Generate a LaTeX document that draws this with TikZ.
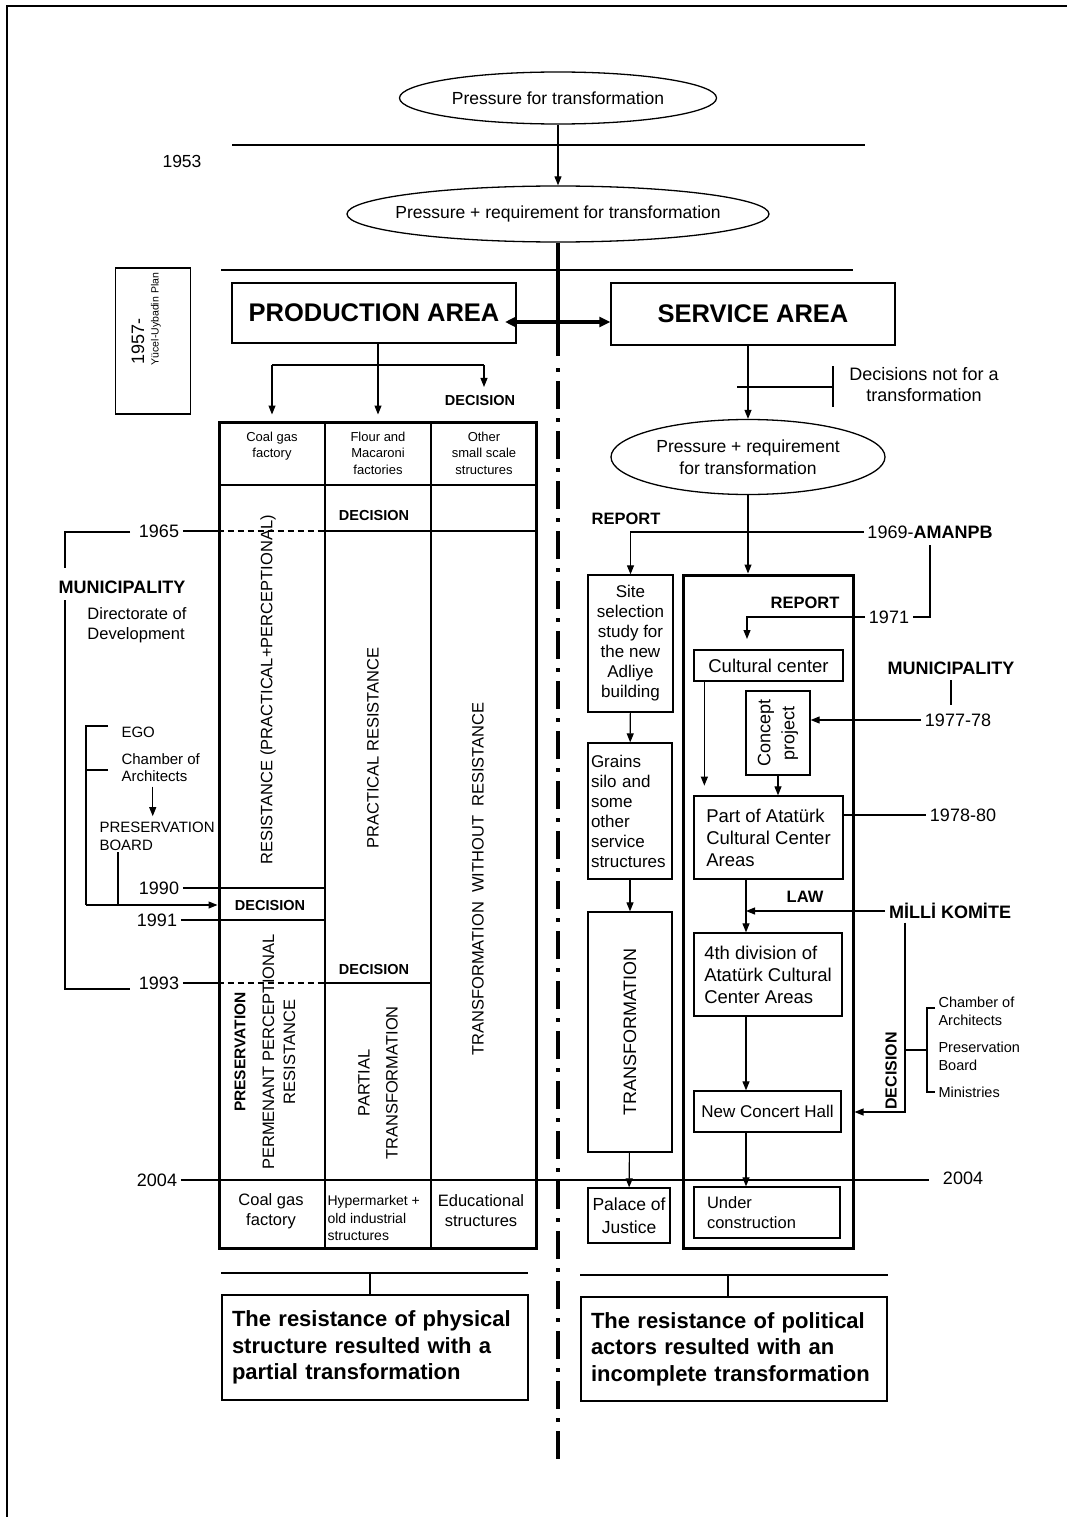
\documentclass[tikz,border=0pt]{standalone}
\usepackage{fontspec}
\setmainfont{Liberation Sans}
\usetikzlibrary{shapes.geometric,arrows.meta}

\tikzset{
	fs/.style 2 args={font=\fontsize{#1}{#2}\selectfont},
	bfs/.style 2 args={font=\bfseries\fontsize{#1}{#2}\selectfont},
	box/.style={draw, line width=1.3pt, inner sep=2pt},
	heavybox/.style={draw, line width=3pt},
	oval/.style={draw, ellipse, line width=1.3pt, align=center, inner sep=0pt},
	gap/.style={dash pattern=on 6pt off 4pt},
}

\begin{document}
\begin{tikzpicture}[x=1pt,y=-1pt,line width=1.1pt,>={Triangle[length=9pt,width=7pt]}]
	\useasboundingbox (0,0) rectangle (1067,1517);
	\draw[line width=2.2pt] (7,1517) -- (7,6) -- (1067,6);

	% top
	\node[oval, fs={17.5}{21}, minimum width=317, minimum height=52] (pft) at (558,98) {Pressure for transformation};
	\node[oval, fs={17.5}{21}, inner xsep=-22pt, minimum width=422, minimum height=56] (prt) at (558,214) {Pressure + requirement for transformation};
	\draw[->] (pft) -- (prt);
	\draw (232,145) -- (865,145);
	\draw (221,270) -- (853,270);
	\node[fs={17.5}{21}] (y1953) at (182,161) {1953};

	\draw[line width=3.5pt] (prt.south) -- (558,356) coordinate (axis);
	\draw[line width=3.5pt, dash pattern=on 4pt off 9pt on 28pt off 9pt] ([yshift=-12pt]axis) -- (558,1462);

	\node[box, minimum width=75, minimum height=146] (plan) at (153,341) {};
	\node[fs={18}{21}, rotate=90, anchor=west] (y1957) at (138,368) {1957-};
	\node[fs={10.5}{12}, rotate=90, anchor=west] (ucel) at (156,369) {Yücel-Uybadin Plan};

	\node[box, bfs={25.5}{30}, minimum width=284, minimum height=60] (parea) at (374,313) {PRODUCTION AREA};
	\node[box, bfs={25.5}{30}, minimum width=284, minimum height=62] (sarea) at (753,314) {SERVICE AREA};
	\coordinate (dbl) at (505,322);
	\draw[{Triangle[length=11pt,width=10pt]}-{Triangle[length=11pt,width=10pt]}, line width=3.5pt] (dbl) -- (dbl -| sarea.west);

	% production area
	\node[heavybox, minimum width=317, minimum height=826] (ptab) at (377.5,835) {};
	\coordinate (c1) at (325,422);
	\coordinate (c2) at (431,422);
	\foreach \cx in {325,431}
		\draw (\cx,422) -- (\cx,1248);
	\draw (219,485) -- (536,485);

	\node[fs={13}{16.5}, align=center] (hdr1) at (272,446) {Coal gas\\factory};
	\node[fs={13}{16.5}, align=center] (hdr2) at (378,453) {Flour and\\Macaroni\\factories};
	\node[fs={13}{16.5}, align=center] (hdr3) at (484,453) {Other\\small scale\\structures};
	\node[bfs={14.5}{17}] (dec0) at (480,401) {DECISION};

	\coordinate (br) at (378,365);
	\draw[->] (parea.south -| hdr2) -- ([yshift=6pt]ptab.north -| hdr2);
	\draw[->] (br -| hdr1) -- ([yshift=6pt]ptab.north -| hdr1);
	\draw (br -| hdr1) -- (br -| hdr3);
	\draw[->, shorten >=5pt] (br -| hdr3) -- (hdr3 |- dec0.north);

	\node[bfs={14.5}{17}] (dec1) at (374,516) {DECISION};
	\node[bfs={14.5}{17}] (dec2) at (270,905) {DECISION};
	\node[bfs={14.5}{17}] (dec3) at (374,969) {DECISION};

	% time lines
	\node[fs={18}{21}] (y1965) at (159,531) {1965};
	\node[fs={18}{21}] (y1990) at (159,888) {1990};
	\node[fs={18}{21}] (y1991) at (157,920) {1991};
	\node[fs={18}{21}] (y1993) at (159,983) {1993};
	\node[fs={18}{21}] (y2004l) at (157,1180) {2004};
	\node[fs={18}{21}] (y2004r) at (963,1178) {2004};

	\draw (y1965.east) -- (y1965 -| ptab.west);
	\draw[gap] (y1965 -| ptab.west) -- (y1965 -| c1);
	\draw (y1965 -| c1) -- (y1965 -| ptab.east);
	\draw (y1990.east) -- (y1990 -| c1);
	\draw (y1991.east) -- (y1991 -| c1);
	\draw (y1993.east) -- (y1993 -| ptab.west);
	\draw[gap] (y1993 -| ptab.west) -- (y1993 -| c1);
	\draw (y1993 -| c1) -- (y1993 -| c2);
	\draw[shorten >=10pt] (y2004l.east) -- (y2004l -| y2004r.west);

	\node[fs={16.5}{20}, rotate=90] (rpp) at (268,690) {RESISTANCE (PRACTICAL+PERCEPTIONAL)};
	\node[fs={16.5}{20}, rotate=90] (prr) at (373,748) {PRACTICAL RESISTANCE};
	\node[fs={16.5}{20}, rotate=90] (twr) at (478,879) {TRANSFORMATION~ WITHOUT~ RESISTANCE};
	\node[bfs={15.5}{17}, rotate=90] (pres) at (240,1052) {PRESERVATION};
	\node[fs={16.5}{21}, rotate=90, align=center] (ppr) at (279,1052) {PERMENANT PERCEPTIONAL\\RESISTANCE};
	\node[fs={16.5}{20}, rotate=90, align=center] (ptr) at (378,1083) {PARTIAL\\[8pt]TRANSFORMATION};

	\node[fs={16.5}{20}, align=center] (bc1) at (271,1211) {Coal gas\\factory};
	\node[fs={14}{17.5}, align=left, anchor=west, inner sep=1pt] (bc2) at (326,1218) {Hypermarket +\\old industrial\\structures};
	\node[fs={16.5}{20}, align=center] (bc3) at (481,1211) {Educational\\structures};

	% actors on the left
	\node[bfs={18}{21}] (muni1) at (122,587) {MUNICIPALITY};
	\node[fs={16.5}{19.5}, align=left] (dirdev) at (137,625) {Directorate of\\Development};
	\draw (130,532) -- (65,532) -- (65,568);
	\draw (65,600) -- (65,989) -- (130,989);

	\node[fs={15}{17}, anchor=west, inner sep=0pt] (ego) at (121,732) {EGO};
	\node[fs={15}{17}, anchor=west, align=left, inner sep=0pt] (cha1) at (121,768) {Chamber of\\Architects};
	\node[fs={15}{18}, anchor=west, align=left, inner sep=0pt] (pb) at (99,836) {PRESERVATION\\BOARD};
	\draw (108,726) -- (86,726) -- (86,905);
	\draw (108,770) -- (86,770);
	\draw[->, shorten <=4pt, shorten >=5pt] ([xshift=-8pt]cha1.south) -- ([xshift=-8pt]cha1.south |- pb.north);
	\draw (118,852) -- (118,905);
	\draw[->] (86,905) -- (dec2 -| ptab.west);

	% service area
	\node[oval, fs={17.5}{22}, minimum width=274, minimum height=75] (pr2) at (748,457) {Pressure + requirement\\for transformation};
	\draw[->] (sarea.south -| pr2) -- (pr2.north);
	\draw (737,387) -- (833,387);
	\draw (833,366) -- (833,407);
	\node[fs={18}{21}, align=center] (dnt) at (924,385) {Decisions not for a\\transformation};

	\node[heavybox, minimum width=170, minimum height=673] (svbox) at (768,911.5) {};
	\draw[->] (pr2.south) -- (pr2.south |- svbox.north);

	\node[bfs={16.5}{20}] (rep1) at (626,519) {REPORT};
	\node[fs={18}{21}] (aman) at (930,532) {1969-\textbf{AMANPB}};
	\node[box, fs={17}{20}, align=center, minimum width=85, minimum height=137, inner sep=1pt] (site) at (630.5,643.5) {Site\\selection\\study for\\the new\\Adliye\\building};
	\draw[->] (aman.west) -| (site.north);
	\node[box, fs={17}{20}, align=left, text width=78, minimum width=84, minimum height=136] (grain) at (630,811) {Grains\\silo and\\some\\other\\service\\structures};
	\node[box, minimum width=84, minimum height=240] (trf) at (630,1032) {};
	\node[fs={18}{21}, rotate=90] (trft) at (trf) {TRANSFORMATION};
	\node[box, fs={17.5}{23}, align=center, minimum width=82, minimum height=55, inner sep=1pt] (pal) at (629,1215.5) {Palace of\\Justice};
	\draw[->] (site) -- (grain);
	\draw[->] (grain) -- (trf);
	\draw[->] (trf) -- (pal);

	\node[bfs={16.5}{20}] (rep2) at (805,603) {REPORT};
	\node[fs={18}{21}] (y1971) at (889,617) {1971};
	\draw[shorten <=3pt] (aman.south) -- (aman.south |- y1971) -- (y1971.east);
	\coordinate (rp2) at (747,639);
	\draw[->] (y1971.west) -| (rp2);

	\node[box, fs={18.5}{22}, minimum width=149, minimum height=31] (cc) at (768.5,665.5) {Cultural center};
	\draw[->] ([xshift=11pt]cc.south west) -- ++(0,104);
	\node[box, minimum width=64, minimum height=84] (cp) at (778,733) {};
	\node[fs={18}{21}, rotate=90, align=center] (cpt) at (cp) {Concept\\[3pt]project};
	\node[bfs={18}{21}] (muni2) at (951,668) {MUNICIPALITY};
	\node[fs={18}{21}] (y7778) at (958,720) {1977-78};
	\draw[shorten <=2pt, shorten >=5pt] (muni2.south) -- (muni2.south |- y7778.north);
	\draw[->] (y7778.west) -- (y7778.west -| cp.east);

	\node[box, fs={18.5}{22}, align=left, minimum width=149, minimum height=83] (part) at (768.5,837.5) {Part of Atatürk\\Cultural Center\\Areas};
	\draw[->] (cp.south) -- (cp.south |- part.north);
	\node[fs={18}{21}] (y7880) at (963,815) {1978-80};
	\draw (part.east |- y7880) -- (y7880.west);

	\node[bfs={16.5}{20}] (law) at (805,897) {LAW};
	\node[bfs={18}{21}] (mk) at (950,911) {MİLLİ KOMİTE};
	\coordinate (lawc) at (746,911);
	\node[box, fs={18.5}{22}, align=left, minimum width=148, minimum height=83] (div4) at (768,974.5) {4th division of\\Atatürk Cultural\\Center Areas};
	\draw[->] (part.south -| lawc) -- (div4.north -| lawc);
	\draw[->] (mk.west) -- (lawc);
	\node[box, fs={17}{20}, minimum width=147, minimum height=41] (nch) at (767.5,1111.5) {New Concert Hall};
	\draw[->] (div4.south -| lawc) -- (nch.north -| lawc);
	\node[box, fs={16.5}{20}, align=left, text width=120, minimum width=146, minimum height=51] (uc) at (767,1212.5) {Under\\construction};
	\draw[->] (nch.south -| lawc) -- (uc.north -| lawc);

	\coordinate (mkd) at (905,1112);
	\draw[->] (mk.south -| mkd) -- (mkd) -- (mkd -| svbox.east);
	\node[bfs={16}{19}, rotate=90] (dec4) at (891,1071) {DECISION};
	\coordinate (brk) at (905,1050);
	\draw (brk) -- ++(22,0);
	\draw (935,1008) -- (927,1008) -- (927,1092) -- (935,1092);
	\node[fs={14.5}{18}, anchor=west, align=left, inner sep=1pt] (cha2) at (937,1011) {Chamber of\\Architects};
	\node[fs={14.5}{18}, anchor=west, align=left, inner sep=1pt] (pbrd) at (937,1056) {Preservation\\Board};
	\node[fs={14.5}{18}, anchor=west, inner sep=1pt] (mini) at (937,1092) {Ministries};

	% results
	\draw (221,1273) -- (528,1273);
	\draw (580,1275) -- (888,1275);
	\node[box, bfs={22}{26.5}, align=left, text width=286, minimum width=306, minimum height=105] (res1) at (375,1347.5) {The resistance of physical\\structure resulted with a\\partial transformation};
	\node[box, bfs={22}{26.5}, align=left, text width=286, minimum width=306, minimum height=104] (res2) at (734,1349) {The resistance of political\\actors resulted with an\\incomplete transformation};
	\coordinate (t1) at (370,1273);
	\coordinate (t2) at (728,1275);
	\draw (t1) -- (t1 |- res1.north);
	\draw (t2) -- (t2 |- res2.north);
\end{tikzpicture}
\end{document}
